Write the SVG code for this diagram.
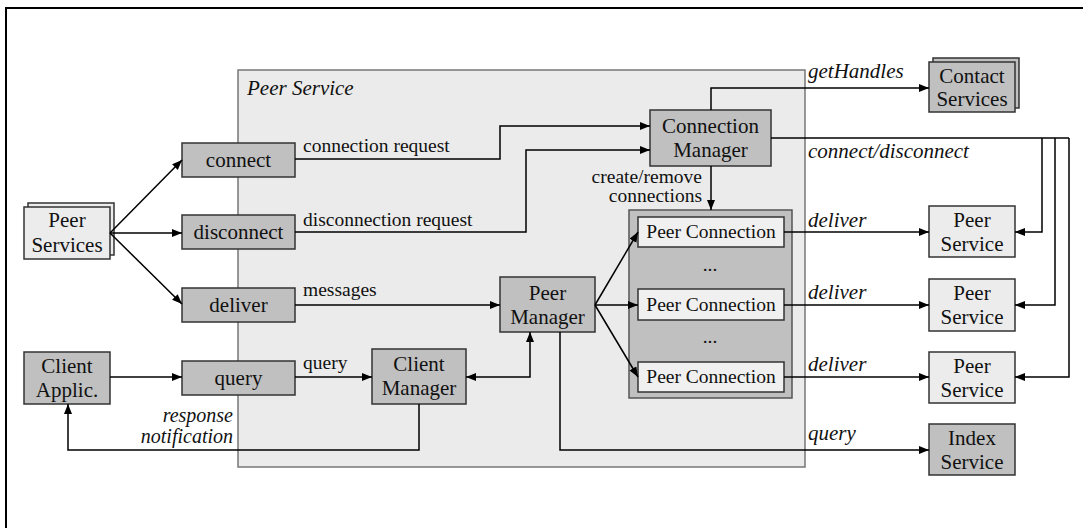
<svg xmlns="http://www.w3.org/2000/svg" width="1083" height="528" viewBox="0 0 1083 528" font-family="'Liberation Serif', 'Times New Roman', 'DejaVu Serif', serif">
  <style>
    text { font-family: 'Liberation Serif', 'Times New Roman', 'DejaVu Serif', serif; fill: #111; }
    .box { font-size: 21px; text-anchor: middle; }
    .pc { font-size: 19.5px; text-anchor: middle; }
    .lbl { font-size: 19.5px; }
    .it { font-size: 21px; font-style: italic; }
    .dark { fill: #c0c0c0; stroke: #333; stroke-width: 1.5; }
    .light { fill: #ececec; stroke: #333; stroke-width: 1.5; }
    .pcbox { fill: #f0f0f0; stroke: #333; stroke-width: 1.5; }
    .wire { fill: none; stroke: #000; stroke-width: 1.5; }
    .arr { marker-end: url(#head); }
  </style>
  <defs>
    <marker id="head" markerWidth="11" markerHeight="9" refX="10" refY="4" orient="auto" markerUnits="userSpaceOnUse">
      <path d="M0,0 L10,4 L0,8 z" fill="#000"/>
    </marker>
    <marker id="tail" markerWidth="11" markerHeight="9" refX="0" refY="4" orient="auto" markerUnits="userSpaceOnUse">
      <path d="M10,0 L0,4 L10,8 z" fill="#000"/>
    </marker>
  </defs>

  <rect width="1083" height="528" fill="#fff"/>
  <!-- page frame -->
  <rect x="6" y="8" width="1100" height="540" fill="none" stroke="#000" stroke-width="2"/>

  <!-- Peer Service container -->
  <g id="peer-service">
    <rect x="238" y="70" width="567" height="397" fill="#ebebeb" stroke="#777" stroke-width="1.5"/>
    <text class="it" x="247" y="95">Peer Service</text>
  </g>

  <g id="peer-services">
    <rect class="light" x="28" y="203" width="86" height="52"/>
    <rect class="light" x="24" y="207" width="86" height="52"/>
    <text class="box" x="67" y="227">Peer</text>
    <text class="box" x="67" y="252">Services</text>
  </g>

  <g id="client-applic">
    <rect class="dark" x="24" y="352" width="86" height="52"/>
    <text class="box" x="67" y="373">Client</text>
    <text class="box" x="67" y="397">Applic.</text>
  </g>

  <g id="connect">
    <rect class="dark" x="182" y="143" width="113" height="34"/>
    <text class="box" x="238.5" y="167">connect</text>
  </g>
  <g id="disconnect">
    <rect class="dark" x="182" y="215" width="113" height="34"/>
    <text class="box" x="238.5" y="239">disconnect</text>
  </g>
  <g id="deliver">
    <rect class="dark" x="182" y="288" width="113" height="34"/>
    <text class="box" x="238.5" y="312">deliver</text>
  </g>
  <g id="query">
    <rect class="dark" x="182" y="361" width="113" height="34"/>
    <text class="box" x="238.5" y="385">query</text>
  </g>

  <g id="client-manager">
    <rect class="dark" x="372" y="349" width="94" height="55"/>
    <text class="box" x="419" y="371">Client</text>
    <text class="box" x="419" y="395">Manager</text>
  </g>

  <g id="peer-manager">
    <rect class="dark" x="500" y="277" width="95" height="55"/>
    <text class="box" x="547.5" y="300">Peer</text>
    <text class="box" x="547.5" y="324">Manager</text>
  </g>

  <g id="connection-manager">
    <rect class="dark" x="650" y="110" width="121" height="56"/>
    <text class="box" x="710.5" y="133">Connection</text>
    <text class="box" x="710.5" y="157">Manager</text>
  </g>

  <g id="peer-connections">
    <rect x="629" y="210" width="163" height="188" fill="#c0c0c0" stroke="#555" stroke-width="1.5"/>
    <rect class="pcbox" x="638" y="217" width="146" height="30"/>
    <text class="pc" x="711" y="238">Peer Connection</text>
    <text class="pc" x="710" y="271">...</text>
    <rect class="pcbox" x="638" y="289" width="146" height="31"/>
    <text class="pc" x="711" y="311">Peer Connection</text>
    <text class="pc" x="710" y="343">...</text>
    <rect class="pcbox" x="638" y="362" width="146" height="30"/>
    <text class="pc" x="711" y="383">Peer Connection</text>
  </g>

  <g id="contact-services">
    <rect class="dark" x="933" y="58" width="86" height="50"/>
    <rect class="dark" x="929" y="62" width="86" height="50"/>
    <text class="box" x="972" y="83">Contact</text>
    <text class="box" x="972" y="106">Services</text>
  </g>

  <g id="peer-service-1">
    <rect class="light" x="929" y="206" width="86" height="51"/>
    <text class="box" x="972" y="227">Peer</text>
    <text class="box" x="972" y="251">Service</text>
  </g>
  <g id="peer-service-2">
    <rect class="light" x="929" y="279" width="86" height="52"/>
    <text class="box" x="972" y="300">Peer</text>
    <text class="box" x="972" y="324">Service</text>
  </g>
  <g id="peer-service-3">
    <rect class="light" x="929" y="352" width="86" height="51"/>
    <text class="box" x="972" y="373">Peer</text>
    <text class="box" x="972" y="397">Service</text>
  </g>
  <g id="index-service">
    <rect class="dark" x="929" y="424" width="86" height="51"/>
    <text class="box" x="972" y="445">Index</text>
    <text class="box" x="972" y="469">Service</text>
  </g>

  <g id="connectors">
    <path class="wire arr" d="M110,233 L182,160"/>
    <path class="wire arr" d="M110,233 L182,233"/>
    <path class="wire arr" d="M110,233 L182,304"/>
    <path class="wire arr" d="M110,377 L182,377"/>

    <path class="wire arr" d="M295,159 H500 V126 H650"/>
    <path class="wire arr" d="M295,232 H526 V150 H650"/>
    <path class="wire arr" d="M295,305 H500"/>
    <path class="wire arr" d="M295,377 H372"/>

    <path class="wire arr" d="M419,404 V450 H68 V404"/>
    <path class="wire arr" style="marker-start:url(#tail)" d="M466,377 H530 V332"/>

    <path class="wire arr" d="M595,305 L638,232"/>
    <path class="wire arr" d="M595,305 L638,305"/>
    <path class="wire arr" d="M595,305 L638,377"/>

    <path class="wire arr" d="M711,166 V210"/>
    <path class="wire arr" d="M711,110 V88 H929"/>

    <path class="wire" d="M771,138 H1069"/>
    <path class="wire arr" d="M1042,138 V232 H1015"/>
    <path class="wire arr" d="M1055,138 V305 H1015"/>
    <path class="wire arr" d="M1069,138 V377 H1015"/>

    <path class="wire arr" d="M784,232 H929"/>
    <path class="wire arr" d="M784,305 H929"/>
    <path class="wire arr" d="M784,377 H929"/>

    <path class="wire arr" d="M560,332 V450 H929"/>
  </g>

  <g id="labels">
    <text class="lbl" x="303" y="152">connection request</text>
    <text class="lbl" x="303" y="226">disconnection request</text>
    <text class="lbl" x="303" y="296">messages</text>
    <text class="lbl" x="303" y="369">query</text>
    <text class="it" x="233" y="422" text-anchor="end" style="font-size:20px">response</text>
    <text class="it" x="233" y="443" text-anchor="end" style="font-size:20px">notification</text>
    <text class="lbl" x="702" y="183" text-anchor="end">create/remove</text>
    <text class="lbl" x="702" y="202" text-anchor="end">connections</text>
    <text class="it" x="808" y="78">getHandles</text>
    <text class="it" x="808" y="158">connect/disconnect</text>
    <text class="it" x="808" y="227">deliver</text>
    <text class="it" x="808" y="299">deliver</text>
    <text class="it" x="808" y="371">deliver</text>
    <text class="it" x="808" y="440">query</text>
  </g>
</svg>
